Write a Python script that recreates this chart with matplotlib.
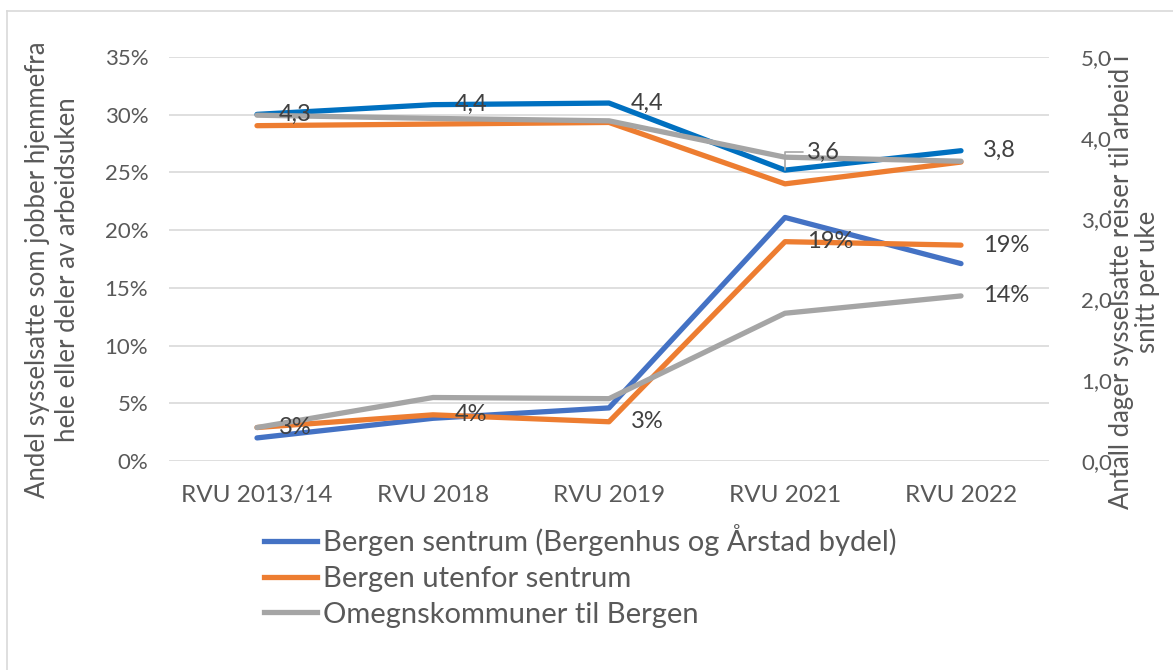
import matplotlib.pyplot as plt
from matplotlib.lines import Line2D

plt.rcParams['font.family'] = ['Lato', 'DejaVu Sans']

# data
surveys = ['RVU 2013/14', 'RVU 2018', 'RVU 2019', 'RVU 2021', 'RVU 2022']
series_names = ['Bergen sentrum (Bergenhus og Årstad bydel)',
                'Bergen utenfor sentrum',
                'Omegnskommuner til Bergen']

# share working from home (left axis, percent)
home_sentrum = [2.0, 3.7, 4.6, 21.1, 17.1]
home_utenfor = [2.9, 4.0, 3.4, 19.0, 18.7]
home_omegn = [2.9, 5.5, 5.4, 12.8, 14.3]

# days travelling to work per week (right axis)
days_sentrum = [4.29, 4.41, 4.43, 3.60, 3.84]
days_utenfor = [4.15, 4.17, 4.19, 3.43, 3.70]
days_omegn = [4.28, 4.24, 4.21, 3.76, 3.71]

pct_labels_utenfor = ['3%', '4%', '3%', '19%', '19%']
day_labels_sentrum = ['4,3', '4,4', '4,4', '3,6', '3,8']

c_blue = '#4472C4'
c_blue_dark = '#0070C0'
c_orange = '#ED7D31'
c_gray = '#A5A5A5'
txt = '#404040'
tick_c = '#595959'

fig = plt.figure(figsize=(11.73, 6.70), dpi=100)
ax = fig.add_axes([169/1173, 1 - 461/670, 880/1173, 404/670])
ax2 = ax.twinx()

x = list(range(len(surveys)))
lw = 3.8

ax.plot(x, home_sentrum, color=c_blue, lw=lw, solid_capstyle='round')
ax.plot(x, home_utenfor, color=c_orange, lw=lw, solid_capstyle='round')
ax.plot(x, home_omegn, color=c_gray, lw=lw, solid_capstyle='round')

ax2.plot(x, days_sentrum, color=c_blue_dark, lw=lw, solid_capstyle='round')
ax2.plot(x, days_utenfor, color=c_orange, lw=lw, solid_capstyle='round')
ax2.plot(x, days_omegn, color=c_gray, lw=lw, solid_capstyle='round')

ax.set_xlim(-0.5, 4.5)
ax.set_ylim(0, 35)
ax2.set_ylim(0, 5)
ax.set_yticks(range(0, 36, 5))
ax.set_yticklabels([f'{v}%' for v in range(0, 36, 5)])
ax2.set_yticks(range(0, 6))
ax2.set_yticklabels([f'{v},0' for v in range(0, 6)])
ax.set_xticks(x)
ax.set_xticklabels(surveys)

ax.grid(axis='y', color='#D9D9D9', lw=1.2)
ax.set_axisbelow(True)
for a in (ax, ax2):
    for s in a.spines.values():
        s.set_visible(False)
    a.tick_params(length=0, labelsize=16, colors=tick_c)
ax.tick_params(axis='y', pad=15)
ax2.tick_params(axis='y', pad=23)
ax.tick_params(axis='x', pad=17, labelsize=17.5)

# data labels
off = 16
fs_lab = 17
for i, lab in enumerate(pct_labels_utenfor):
    ax.annotate(lab, (i, home_utenfor[i]), xytext=(off, 0), textcoords='offset points',
                ha='left', va='center', fontsize=fs_lab, color=txt)
ax.annotate('14%', (4, home_omegn[4]), xytext=(off, 0), textcoords='offset points',
            ha='left', va='center', fontsize=fs_lab, color=txt)
for i, lab in enumerate(day_labels_sentrum):
    if i == 3:
        ax2.annotate(lab, (i, days_sentrum[i]), xytext=(off, 13), textcoords='offset points',
                     ha='left', va='center', fontsize=fs_lab, color=txt,
                     arrowprops=dict(arrowstyle='-', color=c_gray, lw=1.2,
                                     shrinkA=1, shrinkB=0,
                                     connectionstyle='angle,angleA=0,angleB=90,rad=0'))
    else:
        ax2.annotate(lab, (i, days_sentrum[i]), xytext=(off, 0), textcoords='offset points',
                     ha='left', va='center', fontsize=fs_lab, color=txt)

# axis titles
fs_t = 18.5
fig.text(38/1173, 1 - 270/670, 'Andel sysselsatte som jobber hjemmefra',
         rotation=90, ha='center', va='center', fontsize=fs_t, color=tick_c)
fig.text(68/1173, 1 - 270/670, 'hele eller deler av arbeidsuken',
         rotation=90, ha='center', va='center', fontsize=fs_t, color=tick_c)
fig.text(1122/1173, 1 - 282/670, 'Antall dager sysselsatte reiser til arbeid i',
         rotation=90, ha='center', va='center', fontsize=fs_t, color=tick_c)
fig.text(1148/1173, 1 - 282/670, 'snitt per uke',
         rotation=90, ha='center', va='center', fontsize=fs_t, color=tick_c)

# legend
handles = [Line2D([], [], color=c, lw=lw) for c in (c_blue, c_orange, c_gray)]
leg = fig.legend(handles, series_names, loc='upper left',
                 bbox_to_anchor=(238/1173, 1 - 498/670), frameon=False,
                 fontsize=21, handlelength=1.8, handletextpad=0.2,
                 labelspacing=0.33, labelcolor=tick_c)

# chart area border
fig.add_artist(Line2D([7/1173, 7/1173], [0, 1 - 11/670], color='#D9D9D9', lw=1.2))
fig.add_artist(Line2D([7/1173, 1], [1 - 11/670, 1 - 11/670], color='#D9D9D9', lw=1.2))

fig.savefig('out.png', dpi=100, facecolor='white')
